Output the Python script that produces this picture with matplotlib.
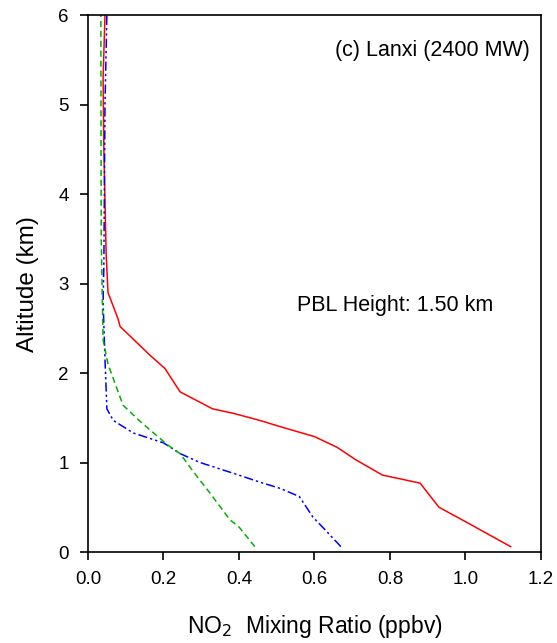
import matplotlib
matplotlib.use("Agg")
import matplotlib.pyplot as plt

plt.rcParams['font.family'] = ['Liberation Sans', 'DejaVu Sans']

# profiles: NO2 (ppbv) vs altitude (km)
red_x = [1.12, 1.0, 0.93, 0.88, 0.78, 0.71, 0.66, 0.60, 0.51, 0.456, 0.385, 0.33, 0.244, 0.204, 0.164, 0.085, 0.08, 0.053, 0.048, 0.042, 0.04, 0.045]
red_y = [0.06, 0.34, 0.50, 0.77, 0.86, 1.03, 1.17, 1.29, 1.40, 1.47, 1.55, 1.60, 1.79, 2.05, 2.20, 2.52, 2.60, 2.90, 3.34, 4.5, 5.3, 6.0]

blue_x = [0.67, 0.628, 0.596, 0.56, 0.51, 0.456, 0.385, 0.297, 0.244, 0.20, 0.12, 0.067, 0.05, 0.045, 0.04, 0.042, 0.045, 0.05]
blue_y = [0.06, 0.25, 0.39, 0.62, 0.71, 0.78, 0.88, 1.00, 1.10, 1.22, 1.33, 1.47, 1.60, 2.15, 2.8, 3.2, 5.0, 6.0]

green_x = [0.442, 0.40, 0.376, 0.323, 0.297, 0.27, 0.244, 0.21, 0.138, 0.093, 0.072, 0.053, 0.04, 0.035, 0.034]
green_y = [0.06, 0.28, 0.36, 0.66, 0.80, 0.95, 1.10, 1.20, 1.46, 1.64, 1.88, 2.10, 2.37, 3.5, 6.0]

x_ticks = [0.0, 0.2, 0.4, 0.6, 0.8, 1.0, 1.2]
y_ticks = [0, 1, 2, 3, 4, 5, 6]

fig = plt.figure(figsize=(5.57, 6.43), dpi=100)
ax = fig.add_axes([0.158, 0.1415, 0.813, 0.835])

ax.plot(red_x, red_y, color='red', lw=1.1)
ax.plot(blue_x, blue_y, color='blue', lw=1.1, dashes=[6, 2, 1.5, 2, 1.5, 2])
ax.plot(green_x, green_y, color='#00b000', lw=1.1, dashes=[4, 2.5])

ax.set_xlim(0, 1.2)
ax.set_ylim(0, 6)
ax.set_xticks(x_ticks)
ax.set_xticklabels(['%.1f' % v for v in x_ticks])
ax.set_yticks(y_ticks)
ax.tick_params(axis='both', direction='out', length=6, width=1.2, labelsize=13.5, top=False, right=False)
ax.tick_params(axis='x', pad=8)
ax.tick_params(axis='y', pad=8)
for s in ax.spines.values():
    s.set_linewidth(1.2)

ax.set_xlabel('NO$_2$  Mixing Ratio (ppbv)', fontsize=16.5, labelpad=18)
ax.set_ylabel('Altitude (km)', fontsize=17.5, labelpad=14)

ax.text(0.975, 0.935, '(c) Lanxi (2400 MW)', transform=ax.transAxes, ha='right', va='center', fontsize=15.5)
ax.text(0.555, 2.76, 'PBL Height: 1.50 km', ha='left', va='center', fontsize=15.5)

fig.savefig('out.png', dpi=100)
